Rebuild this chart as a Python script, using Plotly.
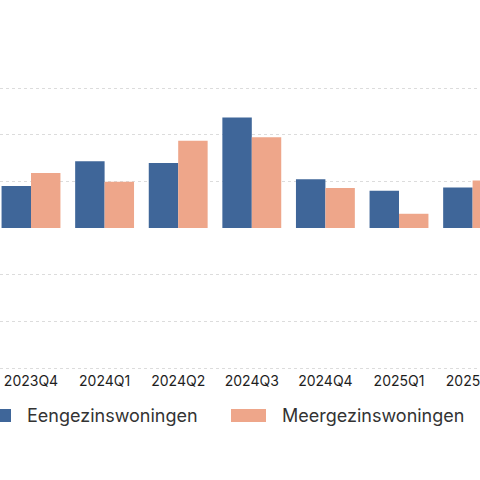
import plotly.graph_objects as go

quarters = ["2023Q4", "2024Q1", "2024Q2", "2024Q3", "2024Q4", "2025Q1", "2025Q2"]
eengezins = [900, 1430, 1395, 2370, 1045, 800, 870]
meergezins = [1180, 990, 1870, 1945, 855, 305, 1020]

BLUE = "#3f6699"
SALMON = "#eea68a"
FONT = "Inter"

fig = go.Figure()
fig.add_trace(go.Bar(x=quarters, y=eengezins, name="Eengezinswoningen",
                     marker=dict(color=BLUE, line=dict(width=0)), showlegend=False))
fig.add_trace(go.Bar(x=quarters, y=meergezins, name="Meergezinswoningen",
                     marker=dict(color=SALMON, line=dict(width=0)), showlegend=False))

# the reference is a crop: first category centre at x=31, 73.6px per category
step = 73.6
first_center = 31
xrange = [-first_center / step, (480 - first_center) / step]

# gridlines every 1000 sit 46.67px apart, zero at y=228; pad 2px top and bottom
px_per_unit = 46.67 / 1000
pad = 2 / px_per_unit

fig.update_layout(
    width=480, height=480,
    margin=dict(l=0, r=0, t=86, b=480 - 370),
    paper_bgcolor="white", plot_bgcolor="white",
    bargap=0.2, bargroupgap=0,
    font=dict(family=FONT, color="#1e1e1e"),
    xaxis=dict(type="category", categoryarray=quarters, range=xrange,
               automargin=False,
               showgrid=False, showline=False, ticks="", ticklabelstandoff=1,
               tickfont=dict(size=14, color="#1e1e1e")),
    # axis line with boundary ticks along zero
    xaxis2=dict(overlaying="x", anchor="free", position=0.5, range=xrange,
                automargin=False,
                showgrid=False, showline=True, linecolor="#d3d3d3", linewidth=1,
                ticks="outside", ticklen=5, tickcolor="#d3d3d3",
                tickmode="array", tickvals=[i - 0.5 for i in range(len(quarters) + 1)],
                showticklabels=False, zeroline=False),
    yaxis=dict(range=[-3000 - pad, 3000 + pad], tickmode="array", automargin=False,
               tickvals=[-3000, -2000, -1000, 1000, 2000, 3000], showticklabels=False,
               showgrid=True, gridcolor="#dcdcdc", griddash="3px,3px", gridwidth=1,
               zeroline=False, showline=False),
)

# legend drawn by hand to get the wide swatches
plot_h = 480 - 86 - 110
legend = [("Eengezinswoningen", BLUE, -24, 25), ("Meergezinswoningen", SALMON, 231, 280)]
for label, color, x0, tx in legend:
    fig.add_shape(type="rect", xref="paper", yref="paper",
                  x0=x0 / 480, x1=(x0 + 35) / 480,
                  y0=(370 - 422) / plot_h, y1=(370 - 409) / plot_h,
                  fillcolor=color, line=dict(width=0))
    fig.add_annotation(text=label, xref="paper", yref="paper",
                       x=tx / 480, y=(370 - 415.5) / plot_h,
                       xanchor="left", yanchor="middle", showarrow=False,
                       font=dict(size=18, color="#333333", family=FONT))

# drop the default body margin so the 480px figure fills the window
fig.write_html("out.html", config={"displayModeBar": False},
               post_script="document.body.style.margin='0';")
